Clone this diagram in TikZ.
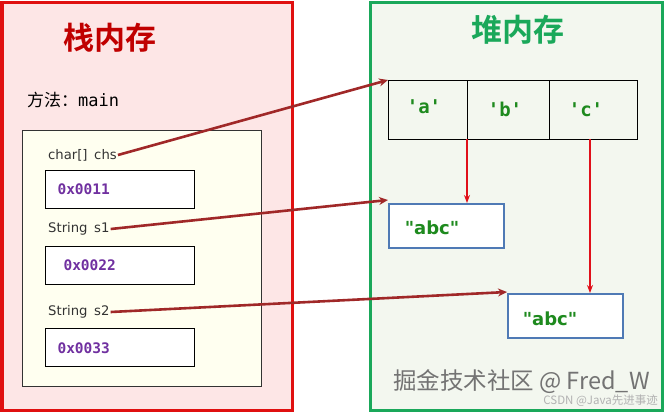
\documentclass[tikz,border=0pt]{standalone}
\usepackage{fontspec}
\setmainfont{DejaVu Sans}
\setmonofont{DejaVu Sans Mono}
\newfontfamily\abcfont{DejaVu Sans}[Ligatures=TeXOff]
\newfontfamily\cjk{Noto Sans CJK SC}
\newfontfamily\cjkb{Noto Sans CJK SC Bold}
\usetikzlibrary{arrows.meta}
\definecolor{stackred}{HTML}{E01010}
\definecolor{stackfill}{HTML}{FDE6E6}
\definecolor{titlered}{HTML}{C00000}
\definecolor{heapgreen}{HTML}{1AA85A}
\definecolor{heapfill}{HTML}{F3F7EF}
\definecolor{framefill}{HTML}{FFFFF0}
\definecolor{addr}{HTML}{7030A0}
\definecolor{valgreen}{HTML}{1E8A1E}
\definecolor{boxblue}{HTML}{4F7AB5}
\definecolor{refred}{HTML}{A02828}
\definecolor{linkred}{HTML}{E0101A}
\newcommand{\sq}{\symbol{"27}}
\tikzset{
  addrbox/.style={draw=black, line width=1.2pt, fill=white, minimum width=149pt, minimum height=38pt, anchor=north west, inner sep=0pt},
  addrtxt/.style={font=\ttfamily\bfseries\fontsize{14.5}{16}\selectfont, text=addr, anchor=west},
  vartxt/.style={font=\fontsize{13.2}{15}\selectfont, text=black!80, anchor=west, inner sep=1pt},
  cell/.style={draw=black, line width=1pt, minimum width=80pt, minimum height=59pt, inner sep=0pt},
  celltxt/.style={font=\ttfamily\bfseries\fontsize{19}{21}\selectfont, text=valgreen},
  strbox/.style={draw=boxblue, line width=1.5pt, fill=white, minimum width=115pt, minimum height=44pt, inner sep=0pt, anchor=north west},
  strtxt/.style={font=\abcfont\bfseries\fontsize{18}{20}\selectfont, text=valgreen},
  refarrow/.style={draw=refred, line width=2.6pt, -{Stealth[length=9pt,width=8pt]}},
  linkarrow/.style={draw=linkred, line width=1.3pt, -{Stealth[length=8pt,width=6pt]}},
}
\begin{document}
\begin{tikzpicture}[x=1pt,y=-1pt]
\useasboundingbox (0,0) rectangle (665,413);
% stack
\draw[stackred, line width=3pt, fill=stackfill] (2,2) rectangle (292,410);
\node[font=\cjkb\fontsize{31}{34}\selectfont, text=titlered] (stitle) at (110,38) {栈内存};
\node[anchor=west, font=\fontsize{17}{19}\selectfont, inner sep=0pt] (method) at (27,100) {{\cjk 方法：}\ttfamily main};
\draw[black!80, line width=0.8pt, fill=framefill] (22,130) rectangle (261,386);
\node[vartxt] (chs) at (47,155) {char[]\enspace chs};
\node[addrbox] (b1) at (45,170) {};
\node[addrtxt] at (54,189) {0x0011};
\node[vartxt] (s1) at (47,229) {String\enspace s1};
\node[addrbox] (b2) at (45,246) {};
\node[addrtxt] at (60,265) {0x0022};
\node[vartxt] (s2) at (47,312) {String\enspace s2};
\node[addrbox] (b3) at (45,328) {};
\node[addrtxt] at (54,348) {0x0033};
% heap
\draw[heapgreen, line width=3pt, fill=heapfill] (370,2) rectangle (662,410);
\node[font=\cjkb\fontsize{31}{34}\selectfont, text=heapgreen] (htitle) at (518,30) {堆内存};
\node[cell, minimum width=79pt, anchor=north west] (ca) at (388,80) {};
\node[cell, minimum width=82pt, anchor=north west] (cb) at (467,80) {};
\node[cell, minimum width=88pt, anchor=north west] (cc) at (549,80) {};
\node[celltxt] at (424,107) {\sq a\sq};
\node[celltxt] at (505,109) {\sq b\sq};
\node[celltxt] at (586,110) {\sq c\sq};
\node[strbox] (abc1) at (388,203) {};
\node[strtxt] at (432,228) {"abc"};
\node[strbox] (abc2) at (507,293) {};
\node[strtxt] at (550,319) {"abc"};
% watermark
\node[anchor=west, font=\cjk\fontsize{23.5}{25}\selectfont, text=black!55, inner sep=0pt] (wm) at (393,382) {掘金技术社区 @ Fred\_W};
\node[anchor=east, font=\cjk\fontsize{11.5}{13}\selectfont, text=black!30, inner sep=0pt] (wm2) at (658,401) {CSDN @Java先进事迹};
% links
\coordinate (ta) at (467,139);
\draw[linkarrow] (ta) -- (abc1.north -| ta);
\coordinate (tc) at (590,139);
\draw[linkarrow] (tc) -- (abc2.north -| tc);
\draw[refarrow] (chs.east) -- (ca.north west);
\draw[refarrow] (s1.east) -- ([yshift=3pt]abc1.north west);
\draw[refarrow] (s2.east) -- ([yshift=1pt]abc2.north west);
\end{tikzpicture}
\end{document}
